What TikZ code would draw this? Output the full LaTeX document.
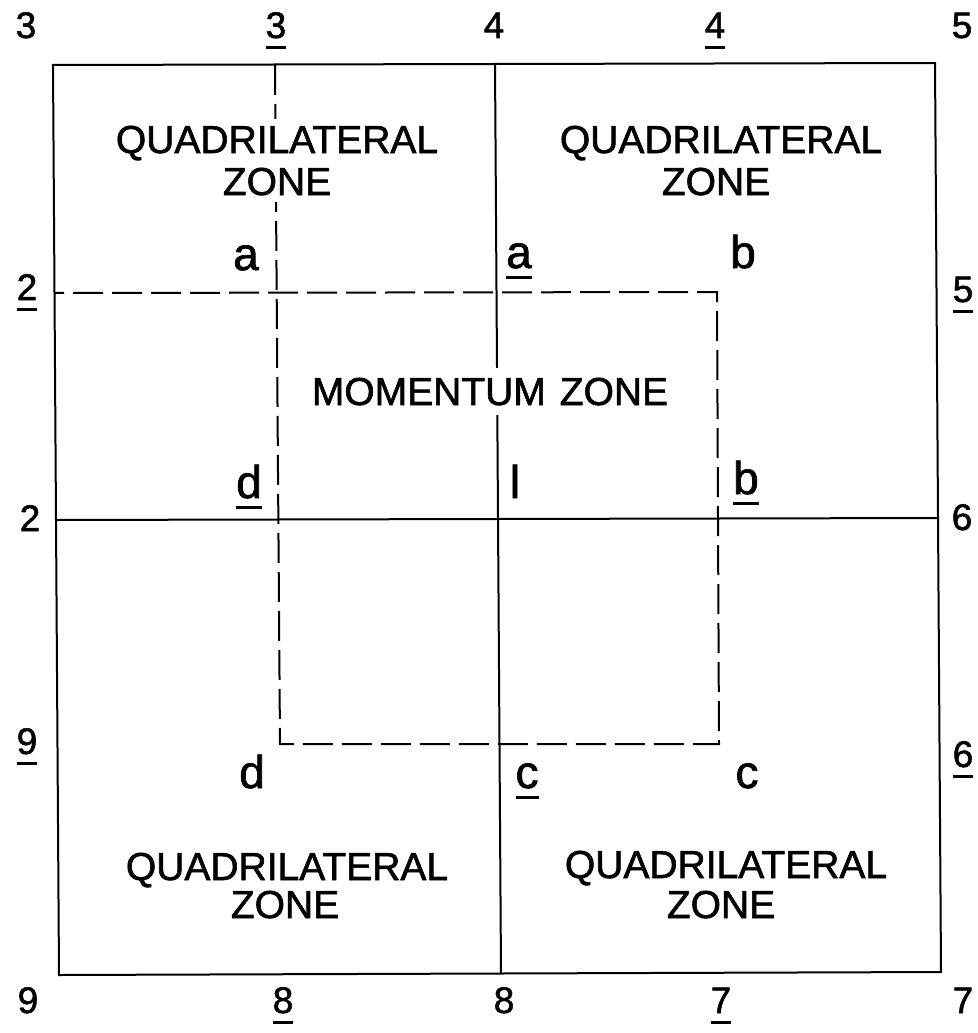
\documentclass[tikz,border=0pt]{standalone}
\usepackage{fontspec}
\setmainfont{Liberation Sans}[FakeBold=1.5]
\newcommand{\ulc}[1]{\setbox0\hbox{#1}\vtop{\copy0\kern8pt\hrule height 3pt width \wd0}}
\tikzset{
  solidln/.style={line width=2pt},
  dashln/.style={line width=2pt, dash pattern=on 30pt off 9pt},
  num/.style={font=\fontsize{37}{37}\selectfont, anchor=base, inner sep=0pt},
  lett/.style={font=\fontsize{46}{46}\selectfont, anchor=base, inner sep=0pt},
  zone/.style={font=\fontsize{39}{42}\selectfont, anchor=base, fill=white, inner sep=7pt},
}
\begin{document}
\begin{tikzpicture}[x=1pt,y=-1pt]
\useasboundingbox (0,0) rectangle (977,1033);
% frame corners
\coordinate (TL) at (53,65);
\coordinate (TR) at (935,63);
\coordinate (BR) at (941,972);
\coordinate (BL) at (59,975);
% grid lines
\coordinate (T4) at (495,64);
\coordinate (B4) at (501,973);
\coordinate (L2) at (55,520);
\coordinate (R6) at (938,518);
% dashed path
\coordinate (T3) at (275,65);
\coordinate (SD) at (280,744);
\coordinate (SC) at (719,744);
\coordinate (SB) at (717,292);
\coordinate (L2u) at (54,293);
\draw[solidln] (TL) -- (TR) -- (BR) -- (BL) -- cycle;
\draw[solidln] (T4) -- (B4);
\draw[solidln] (L2) -- (R6);
\draw[dashln] (T3) -- (SD) -- (SC) -- (SB) -- (L2u);
% zone labels
\node[zone] (q1a) at (277,153) {QUADRILATERAL};
\node[zone] (q1b) at (277,195) {ZONE};
\node[zone] (q2a) at (721,153) {QUADRILATERAL};
\node[zone] (q2b) at (716,195) {ZONE};
\node[zone] (q3a) at (287,880) {QUADRILATERAL};
\node[zone] (q3b) at (285,918) {ZONE};
\node[zone] (q4a) at (726,878) {QUADRILATERAL};
\node[zone] (q4b) at (721,918) {ZONE};
\node[zone, inner sep=10pt] (mz) at (490,405) {MOMENTUM\hspace{14pt}ZONE};
% numbers top
\node[num] (n3) at (26,38) {3};
\node[num] (n3u) at (276,38) {\ulc{3}};
\node[num] (n4) at (494,38) {4};
\node[num] (n4u) at (715,38) {\ulc{4}};
\node[num] (n5) at (962,38) {5};
% numbers left
\node[num] (n2u) at (27,300) {\ulc{2}};
\node[num] (n2) at (30,531) {2};
\node[num] (n9u) at (27,754) {\ulc{9}};
% numbers right
\node[num] (n5u) at (963,302) {\ulc{5}};
\node[num] (n6) at (962,530) {6};
\node[num] (n6u) at (963,767) {\ulc{6}};
% numbers bottom
\node[num] (n9) at (28,1013) {9};
\node[num] (n8u) at (283,1013) {\ulc{8}};
\node[num] (n8) at (504,1013) {8};
\node[num] (n7u) at (721,1013) {\ulc{7}};
\node[num] (n7) at (963,1013) {7};
% letters
\node[lett] (la) at (246,270) {a};
\node[lett] (lau) at (519,268) {\ulc{a}};
\node[lett] (lb) at (743,268) {b};
\node[lett] (ldu) at (249,498) {\ulc{d}};
\node[lett] (ll) at (515,498) {l};
\node[lett] (lbu) at (746,494) {\ulc{b}};
\node[lett] (ld) at (252,788) {d};
\node[lett] (lcu) at (527,788) {\ulc{c}};
\node[lett] (lc) at (747,788) {c};
\end{tikzpicture}
\end{document}
